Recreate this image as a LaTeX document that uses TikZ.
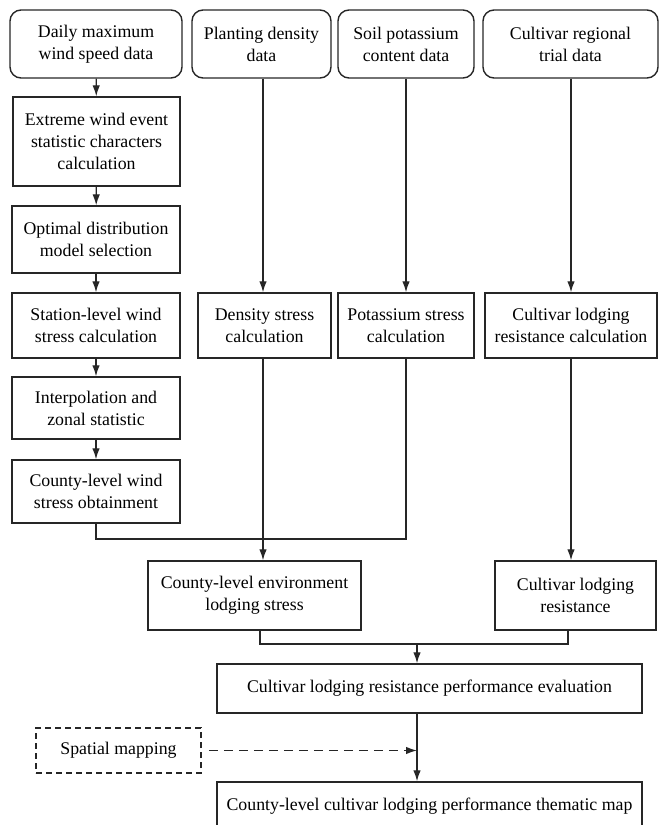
\documentclass[tikz,border=0pt]{standalone}
\usepackage{fontspec}
\setmainfont{Liberation Serif}
\usepackage{tikz}
\usetikzlibrary{arrows.meta, positioning}

\begin{document}
\begin{tikzpicture}[
        x=1pt, y=-1pt,
        every node/.style={font=\fontsize{17.8}{22}\selectfont, align=center, inner sep=2pt},
        databox/.style={draw=black!85, line width=1.4pt, rounded corners=11pt},
        procbox/.style={draw=black!85, line width=1.4pt},
        dashbox/.style={draw=black!85, line width=1.6pt, dashed, dash pattern=on 6pt off 4pt},
        arr/.style={-{Latex[length=11pt, width=7.5pt]}, line width=1.3pt, draw=black!85},
        link/.style={line width=1.3pt, draw=black!85}
      ]
      \useasboundingbox (0,0) rectangle (662,825);
      % input data
      \node[databox, minimum width=172pt, minimum height=68pt] (wind) at (96,44) {Daily maximum\\wind speed data};
      \node[databox, minimum width=139pt, minimum height=68pt] (plant) at (261.5,44) {Planting density\\data};
      \node[databox, minimum width=136pt, minimum height=68pt] (soil) at (406,44) {Soil potassium\\content data};
      \node[databox, minimum width=175pt, minimum height=68pt] (trial) at (570.5,44) {Cultivar regional\\trial data};
      % wind chain
      \node[procbox, minimum width=167pt, minimum height=89pt] (extreme) at (96.5,141.5) {Extreme wind event\\statistic characters\\calculation};
      \node[procbox, minimum width=168pt, minimum height=67pt] (optimal) at (96,239.5) {Optimal distribution\\model selection};
      \node[procbox, minimum width=168pt, minimum height=65pt] (station) at (96,325.5) {Station-level wind\\stress calculation};
      \node[procbox, minimum width=168pt, minimum height=62pt] (interp) at (96,408) {Interpolation and\\zonal statistic};
      \node[procbox, minimum width=168pt, minimum height=63pt] (cwind) at (96,491.5) {County-level wind\\stress obtainment};
      % other stresses
      \node[procbox, minimum width=133pt, minimum height=65pt] (dens) at (264.5,325.5) {Density stress\\calculation};
      \node[procbox, minimum width=136pt, minimum height=65pt] (pot) at (406,325.5) {Potassium stress\\calculation};
      \node[procbox, minimum width=172pt, minimum height=65pt] (lcalc) at (571,325.5) {Cultivar lodging\\resistance calculation};
      \node[procbox, minimum width=213pt, minimum height=69pt] (env) at (254.5,595.5) {County-level environment\\lodging stress};
      \node[procbox, minimum width=161pt, minimum height=69pt] (resist) at (575.5,595.5) {Cultivar lodging\\resistance};
      % evaluation
      \node[procbox, minimum width=425pt, minimum height=49pt] (eval) at (429.5,688.5) {Cultivar lodging resistance performance evaluation};
      \node[dashbox, minimum width=165pt, minimum height=45pt] (spatial) at (118.5,750.5) {Spatial mapping};
      \node[procbox, minimum width=425pt, minimum height=49pt] (map) at (429.5,806.5) {County-level cultivar lodging performance thematic map};
      \coordinate (j1) at (263,539);
      \coordinate (j2) at (417,644);

      \draw[arr] (wind) -- (extreme);
      \draw[arr] (extreme) -- (optimal);
      \draw[arr] (optimal) -- (station);
      \draw[arr] (station) -- (interp);
      \draw[arr] (interp) -- (cwind);
      \draw[arr] (plant.south -| j1) -- (dens.north -| j1);
      \draw[arr] (soil) -- (pot);
      \draw[arr] (trial.south -| lcalc) -- (lcalc);
      \draw[link] (cwind) |- (j1);
      \draw[link] (pot) |- (j1);
      \draw[arr] (dens.south -| j1) -- (env.north -| j1);
      \draw[arr] (lcalc) -- (lcalc |- resist.north);
      \draw[link] ([xshift=5.5pt]env.south) |- (j2);
      \draw[link] ([xshift=-7.5pt]resist.south) |- (j2);
      \draw[arr] (j2) -- (j2 |- eval.north);
      \draw[arr] (j2 |- eval.south) -- (j2 |- map.north);
      \draw[arr, dashed, dash pattern=on 9pt off 6pt, shorten <=7pt] (spatial) -- (j2 |- spatial);
    \end{tikzpicture}
\end{document}
